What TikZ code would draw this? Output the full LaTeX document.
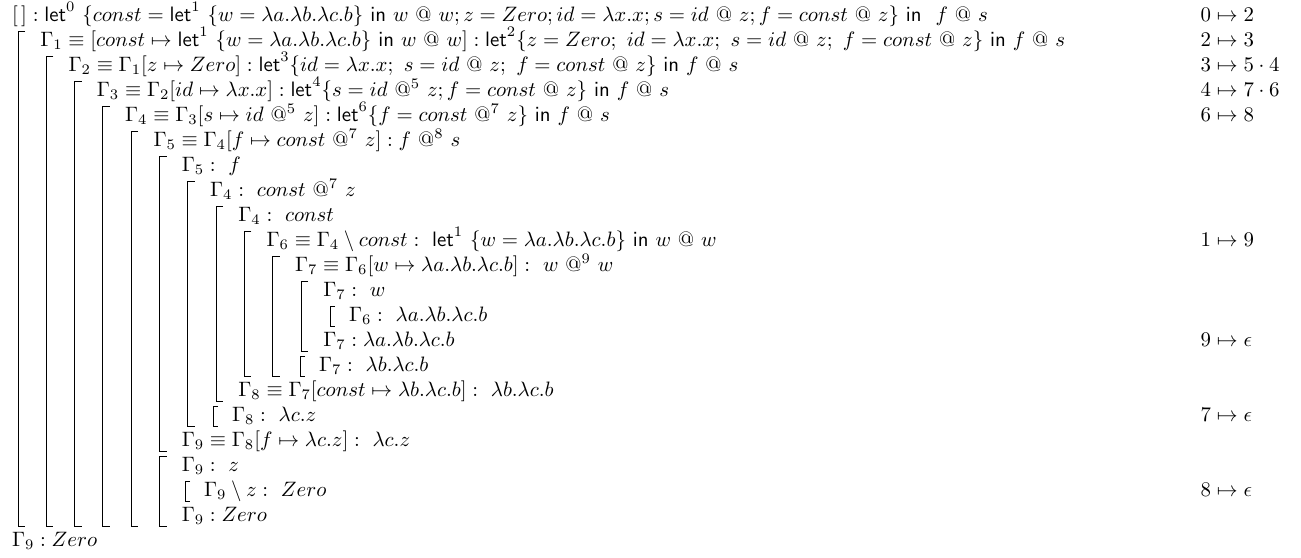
\documentclass[tikz,border=0pt]{standalone}
\newcommand\kw[1]{\mathsf{#1}}
\newcommand\myat{\ @\ }
\newcommand\mybrk[3]{\draw[brkline] (#1+7,#2) -- (#1,#2) -- (#1,#3) -- (#1+7,#3);}
\newcommand\mysbrk[3]{\draw[sbrkline] (#1+5,#2) -- (#1,#2) -- (#1,#3) -- (#1+5,#3);}
\begin{document}
\begin{tikzpicture}[x=0.48pt,y=-0.48pt,
  rowtext/.style={anchor=base west,inner sep=0pt,outer sep=0pt},
  brkline/.style={line width=0.45pt},
  sbrkline/.style={line width=0.4pt}]
\useasboundingbox (0,0) rectangle (1301,557);
% rows (baseline y = 21 + 25(k-1))
\node[rowtext] (r1) at (12,21) {$[\,]:\kw{let}^0\ \{const=\kw{let}^1\ \{w=\lambda a.\lambda b.\lambda c.b\}\ \kw{in}\ w\myat w; z=Zero; id=\lambda x.x; s=id\myat z; f=const\myat z\}\ \kw{in}\ \ f\myat s$};
\node[rowtext] (r2) at (40.3,46) {$\Gamma_1\equiv[const\mapsto\kw{let}^1\ \{w=\lambda a.\lambda b.\lambda c.b\}\ \kw{in}\ w\myat w]:\kw{let}^2\{z=Zero;\ id=\lambda x.x;\ s=id\myat z;\ f=const\myat z\}\ \kw{in}\ f\myat s$};
\node[rowtext] (r3) at (68.6,71) {$\Gamma_2\equiv\Gamma_1[z\mapsto Zero]:\kw{let}^3\{id=\lambda x.x;\ s=id\myat z;\ f=const\myat z\}\ \kw{in}\ f\myat s$};
\node[rowtext] (r4) at (96.9,96) {$\Gamma_3\equiv\Gamma_2[id\mapsto\lambda x.x]:\kw{let}^4\{s=id\ @^5\ z; f=const\myat z\}\ \kw{in}\ f\myat s$};
\node[rowtext] (r5) at (125.2,121) {$\Gamma_4\equiv\Gamma_3[s\mapsto id\ @^5\ z]:\kw{let}^6\{f=const\ @^7\ z\}\ \kw{in}\ f\myat s$};
\node[rowtext] (r6) at (153.5,146) {$\Gamma_5\equiv\Gamma_4[f\mapsto const\ @^7\ z]:f\ @^8\ s$};
\node[rowtext] (r7) at (181.8,171) {$\Gamma_5:\ f$};
\node[rowtext] (r8) at (210.1,196) {$\Gamma_4:\ const\ @^7\ z$};
\node[rowtext] (r9) at (238.4,221) {$\Gamma_4:\ const$};
\node[rowtext] (r10) at (266.7,246) {$\Gamma_6\equiv\Gamma_4\setminus const:\ \kw{let}^1\ \{w=\lambda a.\lambda b.\lambda c.b\}\ \kw{in}\ w\myat w$};
\node[rowtext] (r11) at (295,271) {$\Gamma_7\equiv\Gamma_6[w\mapsto\lambda a.\lambda b.\lambda c.b]:\ w\ @^9\ w$};
\node[rowtext] (r12) at (323.3,296) {$\Gamma_7:\ w$};
\node[rowtext] (r13) at (349,321) {$\Gamma_6:\ \lambda a.\lambda b.\lambda c.b$};
\node[rowtext] (r14) at (323.3,346) {$\Gamma_7:\lambda a.\lambda b.\lambda c.b$};
\node[rowtext] (r15) at (319,371) {$\Gamma_7:\ \lambda b.\lambda c.b$};
\node[rowtext] (r16) at (238.4,396) {$\Gamma_8\equiv\Gamma_7[const\mapsto\lambda b.\lambda c.b]:\ \lambda b.\lambda c.b$};
\node[rowtext] (r17) at (232,421) {$\Gamma_8:\ \lambda c.z$};
\node[rowtext] (r18) at (181.8,446) {$\Gamma_9\equiv\Gamma_8[f\mapsto\lambda c.z]:\ \lambda c.z$};
\node[rowtext] (r19) at (181.8,471) {$\Gamma_9:\ z$};
\node[rowtext] (r20) at (204,496) {$\Gamma_9\setminus z:\ Zero$};
\node[rowtext] (r21) at (181.8,521) {$\Gamma_9:Zero$};
\node[rowtext] (r22) at (12,546) {$\Gamma_9:Zero$};
% right column
\node[rowtext] (m1) at (1200.7,21) {$0\mapsto2$};
\node[rowtext] (m2) at (1200.7,46) {$2\mapsto3$};
\node[rowtext] (m3) at (1200.7,71) {$3\mapsto5\cdot4$};
\node[rowtext] (m4) at (1200.7,96) {$4\mapsto7\cdot6$};
\node[rowtext] (m5) at (1200.7,121) {$6\mapsto8$};
\node[rowtext] (m10) at (1200.7,246) {$1\mapsto9$};
\node[rowtext] (m14) at (1200.7,346) {$9\mapsto\epsilon$};
\node[rowtext] (m17) at (1200.7,421) {$7\mapsto\epsilon$};
\node[rowtext] (m20) at (1200.7,496) {$8\mapsto\epsilon$};
% multi-row brackets: x, top, bottom
\mybrk{18}{31}{526}
\mybrk{46.3}{56}{526}
\mybrk{74.6}{81}{526}
\mybrk{102.9}{106}{526}
\mybrk{131.2}{131}{526}
\mybrk{159.5}{156}{451}
\mybrk{159.5}{456}{526}
\mybrk{187.8}{181}{426}
\mybrk{216.1}{206}{401}
\mybrk{244.4}{231}{376}
\mybrk{272.7}{256}{376}
\mybrk{301}{281}{351}
% single-row brackets
\mysbrk{330}{306}{326}
\mysbrk{300}{356}{376}
\mysbrk{213}{406}{426}
\mysbrk{185}{481}{501}
\end{tikzpicture}
\end{document}
